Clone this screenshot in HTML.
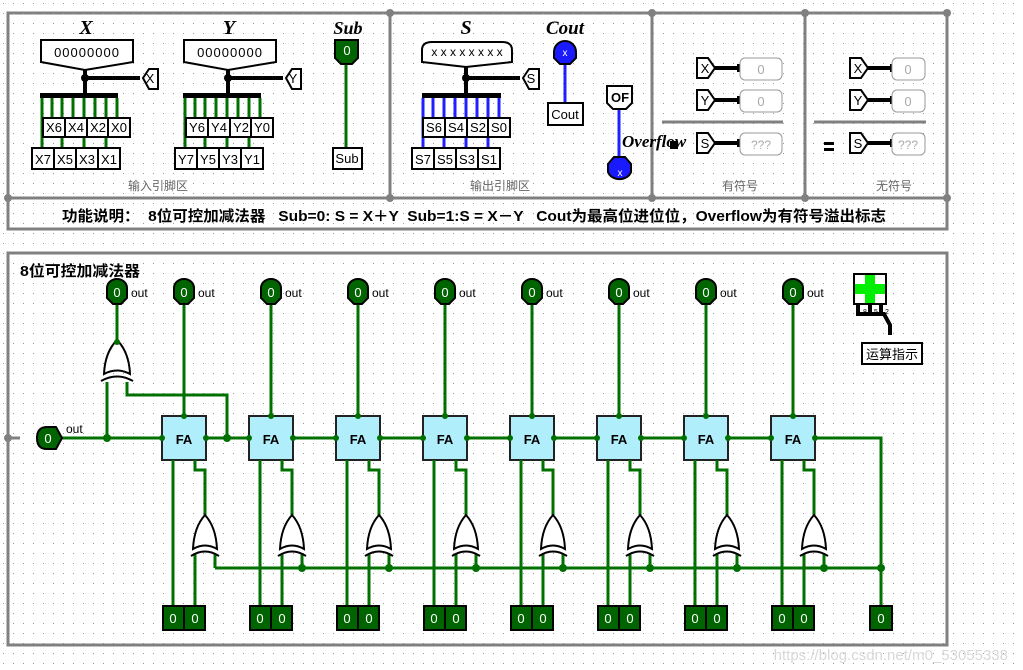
<!DOCTYPE html>
<html><head><meta charset="utf-8">
<style>
html,body{margin:0;padding:0;background:#fff;}
svg{display:block;}
text{font-family:"Liberation Sans","Noto Sans CJK SC",sans-serif;}
text.ser{font-family:"Liberation Serif","Noto Serif CJK SC",serif;font-style:italic;font-weight:bold;}
.w{stroke:#007000;stroke-width:3;fill:none;}
.b{stroke:#2020ff;stroke-width:3;fill:none;}
.k{stroke:#000;stroke-width:4;fill:none;}
.fr{stroke:#808080;stroke-width:3;fill:none;}
.pin{fill:#006400;stroke:#000;stroke-width:2;}
.tun{fill:#fff;stroke:#000;stroke-width:2;}
.t13{font-size:13px;}
.wt{fill:#fff;font-size:13px;text-anchor:middle;}
.dot{fill:#007000;}
</style></head>
<body>
<svg width="1023" height="670" viewBox="0 0 1023 670" xmlns="http://www.w3.org/2000/svg">
<defs>
<pattern id="grid" width="10" height="10" patternUnits="userSpaceOnUse" x="3" y="3">
<rect x="0" y="0" width="1" height="1" fill="#9a9a9a"/>
</pattern>
<g id="col">
 <rect x="162" y="416" width="44" height="44" fill="#b0eefc" stroke="#222" stroke-width="2"/>
 <path class="w" d="M184,303V416 M206,438H249 M173,460V607 M195,460V470H205V515 M195,554V607 M215,554V568"/>
 <path d="M174,288a10,9 0 0 1 20,0v10l-6,6h-8l-6,-6z" class="pin"/>
 <path d="M193,549Q194,527 205,515Q216,527 217,549Q205,542 193,549Z" fill="#fff" stroke="#000" stroke-width="2"/>
 <path d="M191,556Q205,547 219,556" fill="none" stroke="#000" stroke-width="2"/>
 <rect x="163" y="606" width="21" height="24" class="pin"/>
 <rect x="184" y="606" width="21" height="24" class="pin"/>
 <circle cx="184" cy="416" r="3" class="dot"/><circle cx="206" cy="438" r="3" class="dot"/>
 <circle cx="162" cy="438" r="3" class="dot"/>
</g>
</defs>
<rect width="1023" height="670" fill="url(#grid)"/>

<!-- top frame -->
<rect x="8" y="13" width="939" height="216" class="fr" fill="#fff"/>
<rect x="8" y="13" width="939" height="216" fill="url(#grid)"/>
<path class="fr" d="M8,198H947 M390,13V198 M652,13V198 M805,13V198"/>
<g fill="#808080"><circle cx="8" cy="198" r="4"/><circle cx="947" cy="198" r="4"/><circle cx="390" cy="13" r="4"/><circle cx="390" cy="198" r="4"/><circle cx="652" cy="13" r="4"/><circle cx="652" cy="198" r="4"/><circle cx="805" cy="13" r="4"/><circle cx="805" cy="198" r="4"/><circle cx="947" cy="13" r="4"/></g>

<!-- X -->
<text x="86" y="34" class="ser" font-size="20" text-anchor="middle">X</text>
<path d="M41,40H133V62L85,70L41,62Z" class="tun"/>
<text x="87" y="57" class="t13" text-anchor="middle" letter-spacing="1">00000000</text>
<path class="k" d="M85,70V95 M85,78H140"/>
<circle cx="85" cy="78" r="4"/>
<path d="M143,78l6,-9h9v20h-9z" class="tun"/><text x="150" y="83" class="t13" text-anchor="middle">X</text>
<rect x="40" y="93" width="78" height="5" fill="#000"/>
<path class="w" d="M42,98V155 M52,98V118 M62,98V155 M73,98V118 M84,98V155 M95,98V118 M106,98V155 M117,98V118"/>
<g class="tun"><path d="M43,118h22v19h-22z"/><path d="M65,118h22v19h-22z"/><path d="M87,118h21v19h-21z"/><path d="M108,118h22v19h-22z"/>
<path d="M32,148h22v21h-22z"/><path d="M54,148h22v21h-22z"/><path d="M76,148h22v21h-22z"/><path d="M98,148h22v21h-22z"/></g>
<g class="t13" text-anchor="middle"><text x="54" y="132">X6</text><text x="76" y="132">X4</text><text x="98" y="132">X2</text><text x="119" y="132">X0</text>
<text x="43" y="164">X7</text><text x="65" y="164">X5</text><text x="87" y="164">X3</text><text x="109" y="164">X1</text></g>

<!-- Y -->
<text x="229" y="34" class="ser" font-size="20" text-anchor="middle">Y</text>
<path d="M184,40H276V62L228,70L184,62Z" class="tun"/>
<text x="230" y="57" class="t13" text-anchor="middle" letter-spacing="1">00000000</text>
<path class="k" d="M228,70V95 M228,78H283"/>
<circle cx="228" cy="78" r="4"/>
<path d="M286,78l6,-9h9v20h-9z" class="tun"/><text x="293" y="83" class="t13" text-anchor="middle">Y</text>
<rect x="183" y="93" width="78" height="5" fill="#000"/>
<path class="w" d="M185,98V155 M195,98V118 M205,98V155 M216,98V118 M227,98V155 M238,98V118 M249,98V155 M260,98V118"/>
<g class="tun"><path d="M186,118h22v19h-22z"/><path d="M208,118h22v19h-22z"/><path d="M230,118h21v19h-21z"/><path d="M251,118h22v19h-22z"/>
<path d="M175,148h22v21h-22z"/><path d="M197,148h22v21h-22z"/><path d="M219,148h22v21h-22z"/><path d="M241,148h22v21h-22z"/></g>
<g class="t13" text-anchor="middle"><text x="197" y="132">Y6</text><text x="219" y="132">Y4</text><text x="241" y="132">Y2</text><text x="262" y="132">Y0</text>
<text x="186" y="164">Y7</text><text x="208" y="164">Y5</text><text x="230" y="164">Y3</text><text x="252" y="164">Y1</text></g>

<!-- Sub -->
<text x="348" y="34" class="ser" font-size="18" text-anchor="middle">Sub</text>
<path class="w" d="M346,62V148"/>
<path d="M335,40h23v18l-6,6h-11l-6,-6z" class="pin"/><text x="347" y="55" class="wt">0</text>
<path d="M333,148h29v21h-29z" class="tun"/><text x="347" y="163" class="t13" text-anchor="middle">Sub</text>
<text x="158" y="190" font-size="12" fill="#666" text-anchor="middle">输入引脚区</text>

<!-- S -->
<text x="466" y="34" class="ser" font-size="20" text-anchor="middle">S</text>
<path d="M422,62V50q0,-8 10,-8h70q10,0 10,8V62L466,67Z" class="tun"/>
<text x="467" y="56" font-size="12" text-anchor="middle">x x x x x x x x</text>
<path class="k" d="M466,67V95 M466,78H520"/>
<circle cx="466" cy="78" r="4"/>
<path d="M523,78l6,-9h10v20h-10z" class="tun"/><text x="531" y="83" class="t13" text-anchor="middle">S</text>
<rect x="422" y="93" width="79" height="5" fill="#000"/>
<path class="b" d="M423,98V155 M433,98V118 M444,98V155 M455,98V118 M466,98V155 M477,98V118 M488,98V155 M499,98V118"/>
<g class="tun"><path d="M423,118h22v19h-22z"/><path d="M445,118h22v19h-22z"/><path d="M467,118h21v19h-21z"/><path d="M488,118h22v19h-22z"/>
<path d="M412,148h22v21h-22z"/><path d="M434,148h22v21h-22z"/><path d="M456,148h22v21h-22z"/><path d="M478,148h22v21h-22z"/></g>
<g class="t13" text-anchor="middle"><text x="434" y="132">S6</text><text x="456" y="132">S4</text><text x="478" y="132">S2</text><text x="499" y="132">S0</text>
<text x="423" y="164">S7</text><text x="445" y="164">S5</text><text x="467" y="164">S3</text><text x="489" y="164">S1</text></g>
<text x="500" y="190" font-size="12" fill="#666" text-anchor="middle">输出引脚区</text>

<!-- Cout -->
<text x="565" y="34" class="ser" font-size="19" text-anchor="middle">Cout</text>
<path class="b" d="M565,60V102"/>
<path d="M554,52a11,11 0 0 1 22,0v6l-6,6h-10l-6,-6z" fill="#1a1aff" stroke="#000" stroke-width="2"/><text x="565" y="56" fill="#fff" font-size="10" text-anchor="middle">x</text>
<rect x="548" y="103" width="35" height="22" class="tun"/><text x="565" y="119" class="t13" text-anchor="middle">Cout</text>
<!-- OF -->
<path class="b" d="M619,108V160"/>
<path d="M607,86h25v17l-6,6h-13l-6,-6z" class="tun"/><text x="620" y="102" font-size="13" font-weight="bold" text-anchor="middle">OF</text>
<path d="M608,172v-8l6,-7h11l6,7v8a12,10 0 0 1 -23,0z" fill="#1a1aff" stroke="#000" stroke-width="2"/><text x="620" y="176" fill="#fff" font-size="10" text-anchor="middle">x</text>
<text x="622" y="147" class="ser" font-size="17">Overflow</text>
<rect x="670" y="141" width="8" height="8" fill="#000"/>

<!-- signed -->
<g>
<path d="M697,58h11l7,10l-7,10h-11z" class="tun"/><text x="705" y="73" class="t13" text-anchor="middle">X</text>
<path d="M697,90h11l7,10l-7,10h-11z" class="tun"/><text x="705" y="105" class="t13" text-anchor="middle">Y</text>
<path d="M697,133h11l7,10l-7,10h-11z" class="tun"/><text x="705" y="148" class="t13" text-anchor="middle">S</text>
<path class="k" d="M715,68H740 M715,100H740 M715,143H740" stroke-width="3"/>
<rect x="737" y="64" width="6" height="8"/><rect x="737" y="96" width="6" height="8"/><rect x="737" y="139" width="6" height="8"/>
<rect x="740" y="58" width="42" height="22" rx="5" fill="#fff" stroke="#999"/><text x="761" y="74" class="t13" fill="#aaa" text-anchor="middle">0</text>
<rect x="740" y="90" width="42" height="22" rx="5" fill="#fff" stroke="#999"/><text x="761" y="106" class="t13" fill="#aaa" text-anchor="middle">0</text>
<rect x="740" y="133" width="42" height="22" rx="5" fill="#fff" stroke="#999"/><text x="761" y="149" font-size="12" fill="#aaa" text-anchor="middle">???</text>
<path d="M662,122H783" stroke="#808080" stroke-width="3"/>
<text x="740" y="190" font-size="12" fill="#666" text-anchor="middle">有符号</text>
</g>
<!-- unsigned -->
<g>
<path d="M850,58h11l7,10l-7,10h-11z" class="tun"/><text x="858" y="73" class="t13" text-anchor="middle">X</text>
<path d="M850,90h11l7,10l-7,10h-11z" class="tun"/><text x="858" y="105" class="t13" text-anchor="middle">Y</text>
<path d="M850,133h11l7,10l-7,10h-11z" class="tun"/><text x="858" y="148" class="t13" text-anchor="middle">S</text>
<path class="k" d="M868,68H893 M868,100H893 M868,143H893" stroke-width="3"/>
<rect x="890" y="64" width="6" height="8"/><rect x="890" y="96" width="6" height="8"/><rect x="890" y="139" width="6" height="8"/>
<rect x="892" y="58" width="33" height="22" rx="5" fill="#fff" stroke="#999"/><text x="908" y="74" class="t13" fill="#aaa" text-anchor="middle">0</text>
<rect x="892" y="90" width="33" height="22" rx="5" fill="#fff" stroke="#999"/><text x="908" y="106" class="t13" fill="#aaa" text-anchor="middle">0</text>
<rect x="892" y="133" width="33" height="22" rx="5" fill="#fff" stroke="#999"/><text x="908" y="149" font-size="12" fill="#aaa" text-anchor="middle">???</text>
<path d="M814,122H926" stroke="#808080" stroke-width="3"/>
<rect x="824" y="142" width="10" height="3"/><rect x="824" y="148" width="10" height="3"/>
<text x="894" y="190" font-size="12" fill="#666" text-anchor="middle">无符号</text>
</g>
<text x="62" y="221" font-size="15" font-weight="bold" xml:space="preserve" textLength="824" lengthAdjust="spacingAndGlyphs">功能说明：  8位可控加减法器   Sub=0: S = X＋Y  Sub=1:S = X－Y   Cout为最高位进位位，Overflow为有符号溢出标志</text>

<!-- bottom frame -->
<rect x="8" y="253" width="939" height="392" fill="#fff"/>
<rect x="8" y="253" width="939" height="392" fill="url(#grid)"/>
<rect x="8" y="253" width="939" height="392" class="fr"/>
<text x="20" y="276" font-size="15" font-weight="bold" textLength="120" lengthAdjust="spacingAndGlyphs">8位可控加减法器</text>
<circle cx="8" cy="438" r="4" fill="#808080"/><path d="M8,438H20" stroke="#808080" stroke-width="3"/>

<!-- carry chain & sub -->
<path class="w" d="M60,438H162 M107,438V382 M127,382V395H227V438 M117,303V342 M815,438H881V607 M215,568H881"/>
<path d="M37,438q0,-11 10,-11h9l6,11l-6,11h-9q-10,0 -10,-11z" class="pin"/><text x="48" y="443" class="wt">0</text>
<text x="66" y="433" font-size="12">out</text>
<circle cx="107" cy="438" r="4" class="dot"/><circle cx="227" cy="438" r="4" class="dot"/>
<circle cx="881" cy="568" r="4" class="dot"/>
<path d="M107,288a10,9 0 0 1 20,0v10l-6,6h-8l-6,-6z" class="pin"/><text x="117" y="297" class="wt">0</text><text x="131" y="297" font-size="12">out</text>
<path d="M104,374Q105,352 117,340Q129,352 130,374Q117,367 104,374Z" fill="#fff" stroke="#000" stroke-width="2"/>
<path d="M101,381Q117,372 133,381" fill="none" stroke="#000" stroke-width="2"/>
<circle cx="117" cy="342" r="3" class="dot"/>
<rect x="870" y="606" width="22" height="24" class="pin"/><text x="881" y="623" class="wt">0</text>

<use href="#col"/>
<use href="#col" x="87"/>
<use href="#col" x="174"/>
<use href="#col" x="261"/>
<use href="#col" x="348"/>
<use href="#col" x="435"/>
<use href="#col" x="522"/>
<use href="#col" x="609"/>
<g class="dot"><circle cx="302" cy="568" r="4"/><circle cx="389" cy="568" r="4"/><circle cx="476" cy="568" r="4"/><circle cx="563" cy="568" r="4"/><circle cx="650" cy="568" r="4"/><circle cx="737" cy="568" r="4"/><circle cx="824" cy="568" r="4"/></g>

<g font-size="13" font-weight="bold" text-anchor="middle">
<text x="184" y="444">FA</text><text x="271" y="444">FA</text><text x="358" y="444">FA</text><text x="445" y="444">FA</text><text x="532" y="444">FA</text><text x="619" y="444">FA</text><text x="706" y="444">FA</text><text x="793" y="444">FA</text>
</g>
<g class="wt">
<text x="184" y="297">0</text><text x="271" y="297">0</text><text x="358" y="297">0</text><text x="445" y="297">0</text><text x="532" y="297">0</text><text x="619" y="297">0</text><text x="706" y="297">0</text><text x="793" y="297">0</text>
<text x="173" y="623">0</text><text x="195" y="623">0</text><text x="260" y="623">0</text><text x="282" y="623">0</text><text x="347" y="623">0</text><text x="369" y="623">0</text><text x="434" y="623">0</text><text x="456" y="623">0</text>
<text x="521" y="623">0</text><text x="543" y="623">0</text><text x="608" y="623">0</text><text x="630" y="623">0</text><text x="695" y="623">0</text><text x="717" y="623">0</text><text x="782" y="623">0</text><text x="804" y="623">0</text>
</g>
<g font-size="12">
<text x="198" y="297">out</text><text x="285" y="297">out</text><text x="372" y="297">out</text><text x="459" y="297">out</text><text x="546" y="297">out</text><text x="633" y="297">out</text><text x="720" y="297">out</text><text x="807" y="297">out</text>
</g>

<!-- op indicator -->
<rect x="854" y="274" width="32" height="30" fill="#fff" stroke="#000" stroke-width="2"/>
<rect x="865" y="275" width="10" height="28" fill="#00ee00"/><rect x="855" y="284" width="30" height="10" fill="#00ee00"/>
<path d="M858,305V314H884L890,325V335" fill="none" stroke="#000" stroke-width="4"/>
<path d="M870,305V314 M881,305V314" stroke="#000" stroke-width="4"/>
<text x="863" y="314" font-size="7">8</text><text x="874" y="314" font-size="7">5</text><text x="885" y="314" font-size="7">2</text>
<rect x="862" y="343" width="60" height="21" fill="#fff" stroke="#000" stroke-width="2"/>
<text x="892" y="359" font-size="13" text-anchor="middle">运算指示</text>

<text x="1008" y="660" font-size="15" fill="#d8d8d8" text-anchor="end">https://blog.csdn.net/m0_53055338</text>
</svg>
</body></html>
